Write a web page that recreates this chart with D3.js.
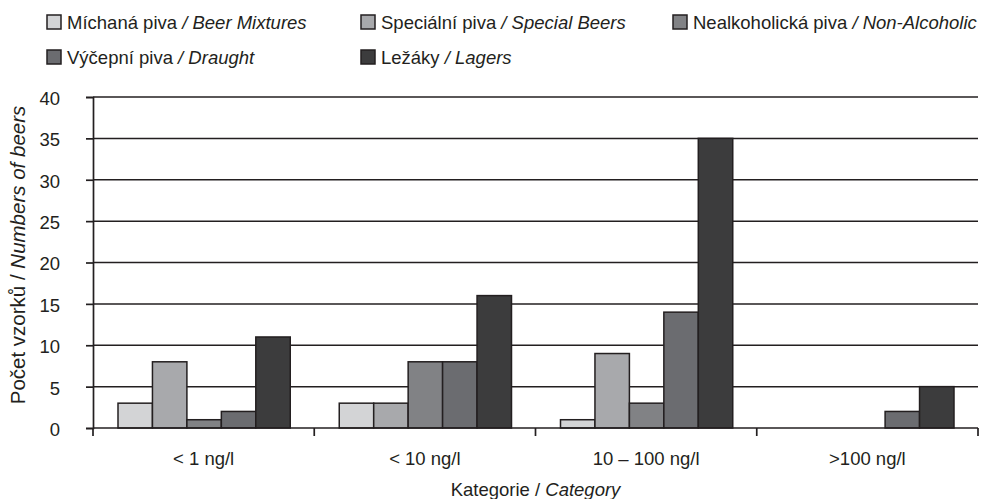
<!DOCTYPE html>
<html>
<head>
<meta charset="utf-8">
<script src="https://cdn.jsdelivr.net/npm/d3@7"></script>
<style>
body { margin: 0; background: #fff; }
svg { font-family: "Liberation Sans", Arial, sans-serif; }
</style>
</head>
<body>
<svg width="985" height="499"></svg>
<script>
// kategorie a serie
var kategorie = ["< 1 ng/l", "< 10 ng/l", "10 \u2013 100 ng/l", ">100 ng/l"];
var serieCz = ["Míchaná piva", "Speciální piva", "Nealkoholická piva", "Výčepní piva", "Ležáky"];
var serieEn = ["Beer Mixtures", "Special Beers", "Non-Alcoholic", "Draught", "Lagers"];
var barvy = ["#d3d4d6", "#a8a9ac", "#818285", "#6b6c70", "#3c3c3d"];
var michana = [3, 3, 1, 0];
var specialni = [8, 3, 9, 0];
var nealko = [1, 8, 3, 0];
var vycepni = [2, 8, 14, 2];
var lezaky = [11, 16, 35, 5];
var yTicks = [0, 5, 10, 15, 20, 25, 30, 35, 40];

var hodnoty = [michana, specialni, nealko, vycepni, lezaky];
var data = kategorie.map(function(k, i) {
  var o = { kat: k };
  serieCz.forEach(function(s, j) { o[s] = hodnoty[j][i]; });
  return o;
});

var svg = d3.select("svg"),
    margin = {left: 93, right: 7, top: 97, bottom: 71},
    width = +svg.attr("width") - margin.left - margin.right,
    height = +svg.attr("height") - margin.top - margin.bottom,
    g = svg.append("g").attr("transform", "translate(" + margin.left + "," + margin.top + ")");

var x0 = d3.scaleBand().domain(kategorie).range([0, width]).paddingInner(0).paddingOuter(0);
var x1 = d3.scaleBand().domain(serieCz).range([25, x0.bandwidth() - 24]);
var y = d3.scaleLinear().domain([0, 40]).range([height, 0]);
var z = d3.scaleOrdinal().domain(serieCz).range(barvy);

// mrizka
g.append("g")
  .selectAll("line")
  .data(yTicks.slice(1))
  .enter().append("line")
   .attr("x1", 0).attr("x2", width)
   .attr("y1", function(d) { return y(d); })
   .attr("y2", function(d) { return y(d); })
   .attr("stroke", "#231f20")
   .attr("stroke-width", 1.5);

// sloupce
g.append("g")
  .selectAll("g")
  .data(data)
  .enter().append("g")
   .attr("transform", function(d) { return "translate(" + x0(d.kat) + ",0)"; })
  .selectAll("rect")
  .data(function(d) { return serieCz.map(function(s) { return {key: s, value: d[s]}; }).filter(function(e) { return e.value > 0; }); })
  .enter().append("rect")
   .attr("x", function(d) { return x1(d.key); })
   .attr("y", function(d) { return y(d.value); })
   .attr("width", x1.bandwidth())
   .attr("height", function(d) { return y(0) - y(d.value); })
   .attr("fill", function(d) { return z(d.key); })
   .attr("stroke", "#231f20")
   .attr("stroke-width", 1.5);

// osa x
var xAxis = g.append("g")
  .attr("transform", "translate(0," + height + ")");
xAxis.append("line")
  .attr("x1", 0).attr("x2", width)
  .attr("stroke", "#231f20").attr("stroke-width", 1.7);
xAxis.selectAll(".tick")
  .data(kategorie.map(function(k) { return x0(k); }).concat([width]))
  .enter().append("line")
   .attr("x1", function(d) { return d; }).attr("x2", function(d) { return d; })
   .attr("y1", 0).attr("y2", 8)
   .attr("stroke", "#231f20").attr("stroke-width", 1.7);
xAxis.selectAll("text")
  .data(kategorie)
  .enter().append("text")
   .attr("x", function(d) { return x0(d) + x0.bandwidth() / 2; })
   .attr("y", 37)
   .attr("text-anchor", "middle")
   .attr("font-size", 18.5)
   .attr("fill", "#231f20")
   .text(function(d) { return d; });

// osa y
var yAxis = g.append("g")
  .call(d3.axisLeft(y).tickValues(yTicks).tickSize(7).tickPadding(26));
yAxis.select(".domain").attr("stroke", "#231f20").attr("stroke-width", 1.7);
yAxis.selectAll(".tick line").attr("stroke", "#231f20").attr("stroke-width", 1.7);
yAxis.selectAll(".tick text")
  .attr("font-size", 18.5)
  .attr("font-family", "Liberation Sans, Arial, sans-serif")
  .attr("dy", "0.4em")
  .attr("fill", "#231f20");

// popisky os
var yl = svg.append("text")
  .attr("transform", "translate(25," + 255 + ") rotate(-90)")
  .attr("text-anchor", "middle")
  .attr("font-size", 20.5)
  .attr("fill", "#231f20");
yl.append("tspan").text("Počet vzorků / ");
yl.append("tspan").attr("font-style", "italic").text("Numbers of beers");

var xl = svg.append("text")
  .attr("x", margin.left + width / 2)
  .attr("y", 496)
  .attr("text-anchor", "middle")
  .attr("font-size", 18.5)
  .attr("fill", "#231f20");
xl.append("tspan").text("Kategorie / ");
xl.append("tspan").attr("font-style", "italic").text("Category");

// legenda
var legX = [47, 361, 673];
var legend = svg.append("g")
  .selectAll("g")
  .data(serieCz)
  .enter().append("g")
   .attr("transform", function(d, i) { return "translate(" + legX[i % 3] + "," + (15 + Math.floor(i / 3) * 35) + ")"; });

legend.append("rect")
  .attr("width", 14).attr("height", 14)
  .attr("fill", function(d) { return z(d); })
  .attr("stroke", "#231f20").attr("stroke-width", 1.5);

var lt = legend.append("text")
  .attr("x", 20).attr("y", 13.5)
  .attr("font-size", 18.5)
  .attr("fill", "#231f20");
lt.append("tspan").text(function(d) { return d + " "; });
lt.append("tspan").attr("font-style", "italic").text(function(d, i) { return "/ " + serieEn[serieCz.indexOf(d)]; });
</script>
</body>
</html>
